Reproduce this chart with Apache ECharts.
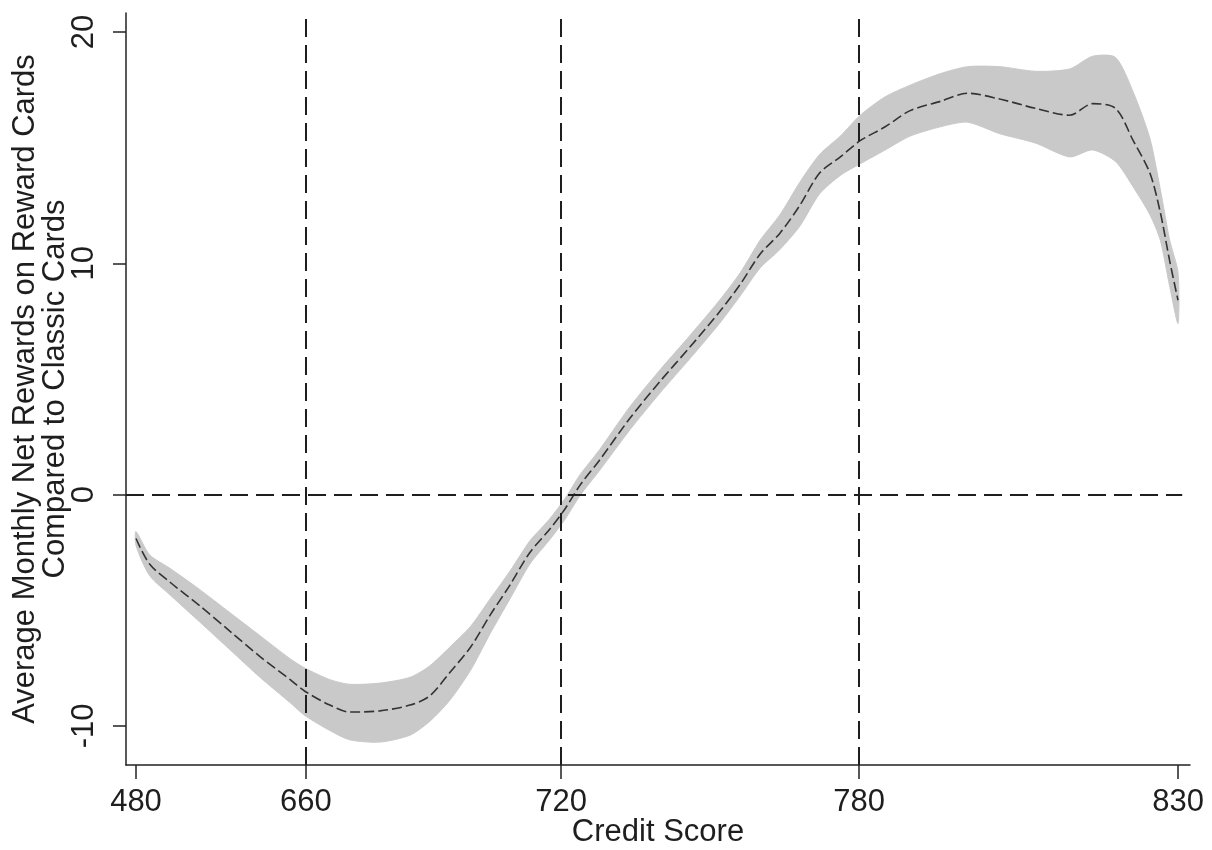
<!DOCTYPE html>
<html>
<head>
<meta charset="utf-8">
<script src="https://cdn.jsdelivr.net/npm/echarts@6/dist/echarts.min.js"></script>
<style>
  html, body { margin: 0; padding: 0; background: #ffffff; }
  #chart { width: 1212px; height: 850px; }
</style>
</head>
<body>
<div id="chart"></div>
<script>
// x positions on the (percentile-like) credit score scale, 0 = 480, 100 = 830
const xPos = [0,1.3,3.3,6.1,9.0,11.9,14.8,16.2,18.6,20.5,23.4,26.3,28.2,30.1,32.1,34.0,35.9,37.8,39.7,41.2,42.6,44.5,47.4,50.3,53.2,56.0,58.0,59.9,61.8,63.7,65.6,67.6,69.5,71.9,74.3,77.2,79.8,82.9,86.3,89.6,91.8,94.0,95.7,97.3,98.3,99.2,100];
const meanVals = [-1.9,-3.0,-3.8,-4.8,-5.9,-7.0,-8.0,-8.5,-9.1,-9.4,-9.35,-9.1,-8.7,-7.7,-6.6,-5.2,-3.9,-2.5,-1.5,-0.6,0.4,1.5,3.3,4.9,6.4,7.9,9.1,10.4,11.3,12.5,13.9,14.6,15.3,15.9,16.6,17.0,17.35,17.1,16.7,16.4,16.9,16.7,15.3,13.9,12.2,10.1,8.4];
const upperVals = [-1.6,-2.6,-3.2,-4.1,-5.1,-6.1,-7.1,-7.5,-8.0,-8.2,-8.15,-7.9,-7.4,-6.6,-5.7,-4.5,-3.3,-2.0,-1.05,-0.15,0.85,1.95,3.8,5.4,6.9,8.4,9.6,11.0,12.1,13.5,14.7,15.5,16.4,17.2,17.7,18.2,18.5,18.5,18.3,18.4,18.95,18.9,17.4,15.4,13.2,11.0,9.6];
const lowerVals = [-2.2,-3.5,-4.35,-5.5,-6.7,-7.9,-9.0,-9.55,-10.2,-10.6,-10.7,-10.4,-9.8,-8.9,-7.6,-6.0,-4.5,-3.0,-1.95,-1.05,-0.05,1.05,2.8,4.4,5.9,7.4,8.6,9.8,10.6,11.6,13.0,13.8,14.3,14.9,15.5,15.9,16.1,15.6,15.2,14.6,14.9,14.4,13.3,12.1,11.0,9.0,7.4];

// axis ticks
const xTickScores = ['480','660','720','780','830'];
const xTickPositions = [0,16.3,40.8,69.4,100];
const refScores = ['660','720','780'];
const yTicks = [-10,0,10,20];

const xAxisName = 'Credit Score';
const yAxisName = 'Average Monthly Net Rewards on Reward Cards\nCompared to Classic Cards';

const posOf = s => xTickPositions[xTickScores.indexOf(s)];
const labelOf = v => {
  let best = 0, bd = Infinity;
  xTickPositions.forEach((p, i) => { const d = Math.abs(p - v); if (d < bd) { bd = d; best = i; } });
  return xTickScores[best];
};

const bandData = xPos.map((x, i) => [x, lowerVals[i], upperVals[i]]);
const meanData = xPos.map((x, i) => [x, meanVals[i]]);

const textColor = '#1e1e1e';
const font = 'Liberation Sans, Arial, sans-serif';

function renderBand(params, api) {
  if (params.dataIndex !== 0) return null;
  const top = bandData.map(d => api.coord([d[0], d[2]]));
  const bottom = bandData.map(d => api.coord([d[0], d[1]])).reverse();
  return {
    type: 'polygon',
    shape: { points: top.concat(bottom), smooth: 0.25 },
    style: { fill: '#c9c9c9', stroke: '#c9c9c9', lineWidth: 1 },
    silent: true
  };
}

const chart = echarts.init(document.getElementById('chart'), null, { renderer: 'canvas' });
chart.setOption({
  animation: false,
  backgroundColor: '#ffffff',
  grid: { left: 126, right: 22, top: 13, bottom: 85, containLabel: false, outerBoundsMode: 'none' },
  xAxis: {
    type: 'value',
    min: -0.96,
    max: 101.15,
    axisLine: { show: true, onZero: false, lineStyle: { color: '#222', width: 1.5 } },
    axisTick: { show: true, customValues: xTickPositions, length: 14, lineStyle: { color: '#222', width: 1.5 } },
    axisLabel: {
      customValues: xTickPositions, margin: 22,
      fontSize: 31, fontFamily: font, color: textColor,
      formatter: v => labelOf(v)
    },
    splitLine: { show: false },
    name: xAxisName,
    nameLocation: 'middle',
    nameGap: 52,
    nameMoveOverlap: false,
    nameTextStyle: { fontSize: 31, fontFamily: font, color: textColor }
  },
  yAxis: {
    type: 'value',
    min: -11.69,
    max: 20.82,
    axisLine: { show: true, onZero: false, lineStyle: { color: '#222', width: 1.5 } },
    axisTick: { show: true, customValues: yTicks, length: 13, lineStyle: { color: '#222', width: 1.5 } },
    axisLabel: {
      customValues: yTicks, rotate: 90, margin: 26,
      fontSize: 31, fontFamily: font, color: textColor
    },
    splitLine: { show: false },
    name: yAxisName,
    nameLocation: 'middle',
    nameGap: 56,
    nameMoveOverlap: false,
    nameTextStyle: { fontSize: 31, fontFamily: font, color: textColor, lineHeight: 30 }
  },
  series: [
    {
      name: 'band',
      type: 'custom',
      data: bandData,
      encode: { x: 0, y: [1, 2] },
      renderItem: renderBand,
      silent: true,
      z: 1
    },
    {
      name: 'mean',
      type: 'line',
      data: meanData,
      symbol: 'none',
      smooth: 0.3,
      lineStyle: { color: '#333', width: 1.6, type: [10, 4] },
      silent: true,
      z: 4,
      markLine: {
        silent: true,
        symbol: ['none', 'none'],
        label: { show: false },
        lineStyle: { color: '#1e1e1e', width: 2, type: [18, 8] },
        data: refScores.map(s => ({ xAxis: posOf(s) })).concat([
          [{ coord: [-0.96, 0] }, { coord: [100.4, 0] }]
        ])
      }
    }
  ]
});
</script>
</body>
</html>
